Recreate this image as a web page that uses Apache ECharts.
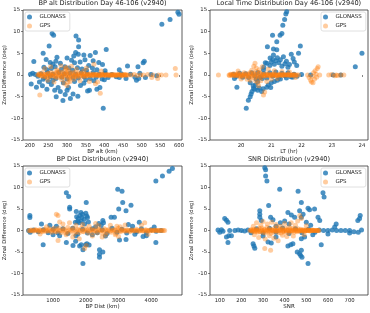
<!DOCTYPE html>
<html>
<head>
<meta charset="utf-8">
<script src="https://cdn.jsdelivr.net/npm/echarts@6/dist/echarts.min.js"></script>
<style>
html,body{margin:0;padding:0;background:#fff;}
#c{width:370px;height:313px;}
</style>
</head>
<body>
<div id="c"></div>
<script>
// ---------- data ----------
const titles = [
  'BP alt Distribution Day 46-106 (v2940)',
  'Local Time Distribution Day 46-106 (v2940)',
  'BP Dist Distribution (v2940)',
  'SNR Distribution (v2940)'
];
const xNames = ['BP alt (km)', 'LT (hr)', 'BP Dist (km)', 'SNR'];
const yName = 'Zonal Difference (deg)';
const yTicks = [-15, -10, -5, 0, 5, 10, 15];
const xTicksAlt = [200, 250, 300, 350, 400, 450, 500, 550, 600];
const xTicksLT = [20, 21, 22, 23, 24];
const xTicksDist = [1000, 2000, 3000, 4000];
const xTicksSNR = [100, 200, 300, 400, 500, 600, 700];
const seriesNames = ['GLONASS', 'GPS'];

const gloAlt = [
[597,14.5],[600,14.0],[576,12.8],[554,11.7],
[260,9.6],[264,9.2],[324,9.0],[331,8.1],[252,6.7],[331,6.5],[405,5.9],
[236,5.0],[323,5.2],[376,5.2],[330,4.8],[273,4.1],[318,4.4],[345,4.6],[362,4.5],
[211,3.1],[244,3.6],[255,2.9],[262,2.5],[270,3.2],[282,2.7],[300,3.9],[312,3.4],[320,2.8],[335,3.0],[348,3.5],[358,2.2],[370,3.3],[385,2.9],[395,2.4],
[504,2.8],[507,3.2],[462,2.1],[490,1.9],
[238,1.8],[246,1.2],[258,1.5],[268,1.9],[285,1.3],[294,1.9],[305,1.6],[315,1.1],[328,1.7],[340,1.4],[352,1.1],[368,1.6],[380,1.2],[402,1.0],[440,1.2],
[202,0.2],[208,0.4],[215,0.1],[222,-0.3],[230,0.3],[240,-0.6],[248,0.5],[255,-0.4],[262,0.2],[270,-0.8],[278,0.6],[286,-0.5],[293,0.3],[300,-0.9],[308,0.4],[316,-0.6],[323,0.2],[330,-0.7],[338,0.5],[346,-0.4],[354,0.3],[362,-0.8],[370,0.6],[378,-0.5],[386,0.2],[394,-0.9],[402,0.4],[410,-0.6],[420,0.1],[432,-0.4],[445,0.3],[458,-0.8],[470,0.2],[482,-0.5],[495,0.4],[510,-0.6],[525,0.1],[540,-0.2],
[204,-2.1],[218,-2.8],[246,-3.3],[267,-3.5],[276,-2.9],[300,-3.5],[295,-4.5],[304,-2.9],[316,-4.4],[282,-3.8],[360,-3.5],[355,-3.7],[380,-3.3],[388,-2.9],[271,-5.0],[329,-4.9],[309,-5.4],[289,-5.9],[397,-7.7],[486,-1.2],[492,-0.8],[440,-0.6],[250,-1.5],[262,-1.2],[290,-1.8],[320,-1.5],[345,-1.9],[372,-1.3],[400,-1.1],[236,-1.0],[226,-1.6],[234,-2.5],[258,-2.2],[336,-2.4],[350,-1.1]
];
const gpsAlt = [
[227,-4.6],[389,-4.2],
[222,0.0],[226,0.3],[230,-0.2],[234,0.5],[238,-0.4],[242,0.2],[246,-0.6],[250,0.4],[254,-0.1],[258,0.6],[262,-0.3],[266,0.1],[270,-0.5],[274,0.3],[278,-0.2],[282,0.7],[286,-0.4],[290,0.2],[294,-0.7],[298,0.5],[302,-0.2],[306,0.8],[310,-0.5],[314,0.3],[318,-0.1],[322,0.5],[326,-0.4],[330,0.2],[334,-0.3],[338,0.4],[342,-0.1],[346,0.2],[350,-0.3],[354,0.1],[358,-0.2],[362,0.3],[366,-0.1],[370,0.2],[374,-0.2],[378,0.1],[382,-0.1],[386,0.2],[390,-0.1],[394,0.1],[398,0],[402,-0.1],[406,0.1],[410,0],[414,-0.1],[418,0.1],[422,0],[426,0.1],[430,-0.1],[434,0],[438,0.1],[442,0],[446,-0.1],[450,0],[454,0.1],[458,0],
[224,0.1],[228,-0.1],[232,0.2],[236,-0.3],[240,0.1],[244,-0.2],[248,0.3],[252,-0.4],[256,0.2],[260,-0.1],[264,0.4],[268,-0.3],[272,0.6],[276,-0.6],[280,0.1],[284,-0.3],[288,0.5],[292,-0.2],[296,0.3],[300,0.1],[304,-0.5],[308,0.2],[312,-0.3],[316,0.6],[320,-0.4],[324,0.1],[328,-0.2],[332,0.5],[336,-0.1],[340,0.2],[344,-0.4],[348,0.3],[352,-0.1],[356,0.2],[360,0],[364,-0.1],[368,0.1],[372,0],[376,0.1],[380,0],[384,0],[388,-0.1],[392,0],[396,0.1],[400,0],[404,0],[408,0],[412,0],[416,0],[420,0],[424,0],[428,0],[432,0],[436,0],[440,0],[444,0],[448,0],[452,0],[456,0],[460,0],[464,0],
[240,1.5],[248,-1.2],[256,1.9],[265,-1.6],[272,1.2],[284,2.1],[292,-1.9],[296,1.5],[300,-2.4],[303,1.1],[308,-1.5],[312,2.0],[318,-1.0],[325,1.3],[335,-1.3],[345,1.0],[360,-1.5],[376,-2.0],[382,-1.6],[392,0.9],[352,1.6],[372,2.5],[286,-1.1],[276,0.9],[298,1.8],[302,-1.7],[306,-0.9],[294,1.0],
[472,0],[480,0.1],[488,-0.1],[497,0],[505,0],[516,0.1],[530,0],[545,0],[553,0],[565,0],[590,1.5],[592,0],[543,-0.8],[527,-0.6]
];

const gloLT = [
[20.17,-7.7],[20.24,-5.8],[20.3,-5.0],[20.33,-4.4],[20.36,-3.8],[20.41,-3.1],[20.47,-2.3],[20.55,-1.5],[20.6,-0.6],[20.74,1.2],[20.85,2.7],[20.96,3.9],[21.07,4.6],[21.18,5.8],[21.29,9.2],[21.35,9.6],[21.38,11.5],[21.44,12.8],[21.48,14.1],[21.51,14.6],
[20.87,6.5],[21.04,9.2],[21.07,6.0],[21.18,7.7],[21.96,6.7],[21.9,5.0],[21.66,4.8],[21.72,3.8],[21.76,3.0],[21.84,2.2],[24.0,5.0],[23.78,1.9],[19.86,-2.8],[19.78,-0.8],
[20.95,2.2],[21.0,3.0],[21.05,3.6],[21.1,2.5],[21.15,3.3],[21.2,4.0],[21.25,2.8],[21.3,3.5],[21.35,2.0],[21.4,4.2],[21.45,2.6],[21.5,3.2],[21.55,1.8],[20.75,1.8],[20.8,2.8],[21.6,2.4],
[20.45,-3.3],[20.55,-3.5],[20.6,-3.0],[20.68,-3.8],[20.73,-3.2],[20.85,-2.8],[20.9,-2.3],[21.0,-1.8],[21.1,-1.5],[21.2,-1.2],[20.98,-2.9],[20.4,-2.5],[20.3,-1.8],[20.5,-1.0],[20.7,-0.8],[21.3,-0.9],[21.5,-0.7],[21.7,-0.5],
[19.75,0.1],[19.85,-0.3],[19.95,0.4],[20.05,-0.5],[20.15,0.3],[20.25,-0.6],[20.35,0.5],[20.45,-0.2],[20.55,0.6],[20.65,-0.4],[20.75,0.3],[20.85,-0.7],[20.95,0.5],[21.05,-0.3],[21.15,0.7],[21.25,-0.5],[21.35,0.4],[21.45,-0.2],[21.55,0.5],[21.65,-0.4],[21.75,0.2],[21.85,-0.3],[22.0,0.1],[22.3,0],[23.05,0],[23.3,0.0]
];
const gpsLT = [
[19.25,0],[19.6,0],[19.65,0.2],[19.7,-0.1],[19.75,0.3],[19.8,-0.2],[19.85,0.1],[19.9,0.4],[19.95,-0.3],[20.0,0.2],[20.05,-0.1],[20.1,0.5],[20.15,-0.4],[20.2,0.3],[20.25,-0.2],[20.3,0.6],[20.35,-0.5],[20.4,0.2],[20.45,-0.7],[20.5,0.8],[20.55,-0.3],[20.6,0.4],[20.65,-0.6],[20.7,0.2],[20.75,-0.2],[20.8,0.3],[20.85,-0.1],[20.9,0.2],[20.95,-0.2],[21.0,0.1],[21.05,-0.1],[21.1,0.2],[21.15,0],[21.2,-0.1],[21.25,0.1],[21.3,0],[21.35,-0.1],[21.4,0.1],[21.45,0],[21.5,0],[21.55,0.1],[21.6,0],[21.65,-0.1],[21.7,0],[21.75,0.1],[21.8,0],[21.9,0],
[19.62,-0.1],[19.68,0.1],[19.72,0],[19.78,0.2],[19.82,-0.1],[19.88,0],[19.92,-0.2],[19.98,0.1],[20.02,-0.3],[20.08,0],[20.12,0.2],[20.18,-0.2],[20.22,0.1],[20.28,-0.4],[20.32,0.3],[20.38,-0.1],[20.42,0.4],[20.48,-0.3],[20.52,0.1],[20.58,-0.5],[20.62,0.5],[20.68,-0.2],[20.72,0.1],[20.78,-0.3],[20.82,0],[20.88,0.1],[20.92,-0.1],[20.98,0],[21.02,0.1],[21.08,0],[21.12,-0.1],[21.18,0],[21.22,0],[21.28,0],[21.32,0],[21.38,0],[21.42,0],[21.48,0],[21.52,0],[21.58,0],[21.62,0],[21.68,0],[21.72,0],[21.78,0],[21.85,0],
[20.46,2.7],[20.42,2.0],[20.5,1.6],[20.55,-1.8],[20.58,-2.5],[20.6,1.2],[20.65,-1.3],[20.7,1.9],[20.74,-4.6],[20.78,-3.9],[20.48,-1.4],[20.35,1.1],[20.3,-1.2],[20.85,-1.5],[20.9,1.3],[21.0,-1.0],[21.1,1.0],[21.2,-0.8],[21.35,0.8],[20.2,-1.0],[20.0,-0.9],[19.9,0.9],[21.6,0.7],[21.8,-0.6],
[22.2,0],[22.25,-0.6],[22.3,-1.2],[22.33,-1.6],[22.35,-0.3],[22.4,0.5],[22.43,-0.9],[22.45,1.0],[22.48,0.2],[22.5,-0.5],[22.52,1.5],[22.55,1.9],[22.38,-1.8],[22.6,0],
[22.9,0],[23.0,0.1],[23.1,-0.2],[23.15,0],[23.2,-0.1],[23.3,0],[23.4,0]
];

const gloDist = [
[4647,14.4],[4546,13.8],[4343,12.7],[4141,11.5],[2976,9.6],[3107,9.1],[1405,8.8],[1476,7.9],[2013,6.5],[3128,6.5],[1507,5.0],[1507,5.4],[3006,5.0],[3229,4.6],[3381,5.9],[1709,4.4],
[1720,3.2],[1770,2.8],[1820,3.5],[1860,2.2],[1900,3.8],[1950,2.6],[2000,4.0],[2050,3.0],[2080,2.0],[1800,1.8],[1880,3.0],[1960,1.5],[2030,3.4],[1750,2.1],[1680,1.9],[1850,4.2],
[290,3.5],[290,3.0],[645,1.5],[2520,2.3],[2540,1.8],[2773,3.1],[2874,3.1],[2469,1.2],[3634,1.9],[3430,1.0],[3300,1.4],[4090,0.8],[2400,1.6],[2300,0.9],[1100,1.0],[900,1.2],
[696,-3.3],[1405,-2.8],[1689,-2.5],[1608,-3.5],[1811,-3.6],[1912,-4.5],[1860,-3.3],[1993,-3.3],[2033,-3.1],[2100,-3.4],[2418,-4.5],[2418,-5.5],[2418,-6.2],[2520,-5.0],[1912,-7.7],[3229,-2.1],[3030,-2.2],[4141,-2.8],[3850,-1.2],[3750,-1.4],[1700,-1.2],[1000,-1.0],[1200,-1.2],[2200,-1.0],[2600,-1.3],[3500,-0.9],[300,-0.4],
[250,0],[400,0.1],[550,-0.3],[700,0.2],[850,-0.5],[1000,0.3],[1150,-0.6],[1300,0.4],[1450,-0.7],[1600,0.5],[1750,-0.8],[1900,0.3],[2050,-0.6],[2200,0.4],[2350,-0.5],[2500,0.2],[2650,-0.7],[2800,0.5],[2950,-0.4],[3100,0.3],[3250,-0.6],[3400,0.2],[3550,-0.3],[3700,0.4],[3850,-0.5],[4000,0.2],[4150,-0.2],[4300,0]
];
const gpsDist = [
[260,0],[330,0.1],[400,-0.1],[470,0.2],[540,-0.2],[610,0.1],[680,-0.3],[750,0.3],[820,-0.1],[890,0.4],[960,-0.4],[1030,0.5],[1100,-0.3],[1170,0.6],[1240,-0.5],[1310,0.4],[1380,-0.6],[1450,0.7],[1520,-0.4],[1590,0.5],[1660,-0.7],[1730,0.3],[1800,-0.5],[1870,0.6],[1940,-0.3],[2010,0.4],[2080,-0.6],[2150,0.3],[2220,-0.4],[2290,0.5],[2360,-0.5],[2430,0.2],[2500,-0.6],[2570,0.4],[2640,-0.5],[2710,0.3],[2780,-0.4],[2850,0.2],[2920,-0.7],[2990,0.5],[3060,-0.3],[3130,0.3],[3200,-0.2],[3270,0.2],[3340,-0.3],[3410,0.2],[3480,-0.1],[3550,0.3],[3620,-0.2],[3690,0.1],[3760,-0.2],[3830,0.2],[3900,-0.1],[3970,0.1],[4040,0],[4110,0.1],[4180,0],[4250,0],[4330,0],[4410,0],
[295,-0.1],[365,0],[435,0.1],[505,0],[575,0.1],[645,-0.1],[715,0],[785,-0.2],[855,0.1],[925,-0.1],[995,0.1],[1065,-0.2],[1135,0.2],[1205,0],[1275,-0.1],[1345,0.2],[1415,-0.2],[1485,0.1],[1555,0],[1625,0.2],[1695,-0.3],[1765,0.1],[1835,0],[1905,-0.2],[1975,0.1],[2045,0],[2115,-0.1],[2185,0.1],[2255,0],[2325,-0.1],[2395,0.1],[2465,0],[2535,-0.1],[2605,0.1],[2675,0],[2745,-0.1],[2815,0],[2885,0.1],[2955,0],[3025,-0.1],[3095,0],[3165,0],[3235,0],[3305,0],[3375,0],[3445,0],[3515,0],[3585,0],[3655,0],[3725,0],[3795,0],[3865,0],[3935,0],[4005,0],[4075,0],[4145,0],[4215,0],[4290,0],[4370,0],
[1100,3.8],[1150,3.5],[1200,2.0],[1151,-2.3],[1300,1.5],[1500,1.8],[1600,-1.5],[1700,1.2],[1800,-1.9],[1900,1.4],[2013,-3.5],[1963,-4.2],[2100,1.0],[2200,-1.3],[2400,1.1],[2500,-1.5],[2600,-1.1],[2750,1.2],[2900,-1.0],[2950,1.0],[3000,-1.4],[3050,0.9],[3200,1.3],[3700,1.2],[3800,1.8],[3900,-0.9],[800,0.9],[600,-0.8],[1400,-1.0],[2300,1.6]
];

const gloSNR = [
[308,14.6],[312,14.1],[312,12.7],[318,11.5],[377,9.6],[462,9.1],[577,8.8],[582,7.8],[477,6.5],[326,5.8],[508,5.2],[515,4.8],[538,5.0],[285,4.6],[285,3.8],[285,3.1],[292,2.3],[415,4.2],[431,3.6],[446,3.1],[469,4.6],[477,3.1],[485,3.8],[123,2.8],[131,2.4],[138,1.9],[554,3.1],[562,2.3],[638,1.5],[631,0.8],[746,2.8],[749,3.5],[738,2.3],[335,3.1],[346,2.5],[380,1.8],[400,2.2],[420,1.5],[500,1.9],[520,1.2],[360,1.0],
[138,-2.8],[131,-1.5],[142,-1.2],[154,-1.2],[254,-3.1],[258,-3.6],[262,-4.1],[323,-2.7],[338,-2.9],[415,-3.6],[428,-3.3],[438,-3.1],[458,-5.0],[469,-5.4],[477,-4.6],[474,-5.8],[480,-6.2],[508,-7.7],[569,-3.3],[477,-1.9],[492,-1.5],[300,-1.3],[360,-1.5],[530,-1.0],[600,-0.8],[700,-0.6],[720,-0.3],
[92,0.1],[100,-0.4],[108,0.2],[115,-0.2],[146,0],[170,0],[185,0.1],[200,0],[215,-0.1],[230,0.1],[245,-0.5],[270,0.4],[300,-0.6],[330,0.5],[360,-0.4],[390,0.6],[420,-0.7],[450,0.4],[480,-0.5],[510,0.3],[540,-0.4],[560,0.1],[580,0],[600,0],[620,0.1],[640,0],[660,0],[680,0],[700,0],[740,-0.4],[755,0.1]
];
const gpsSNR = [
[240,0],[246,0.2],[252,-0.1],[258,0.3],[264,-0.3],[270,0.1],[276,-0.4],[282,0.5],[288,-0.2],[294,0.6],[300,-0.5],[306,0.3],[312,-0.6],[318,0.7],[324,-0.3],[330,0.4],[336,-0.7],[342,0.2],[348,-0.4],[354,0.5],[360,-0.2],[366,0.6],[372,-0.5],[378,0.3],[384,-0.6],[390,0.4],[396,-0.3],[402,0.5],[408,-0.4],[414,0.2],[420,-0.5],[426,0.4],[432,-0.2],[438,0.5],[444,-0.4],[450,0.3],[456,-0.3],[462,0.4],[468,-0.2],[474,0.3],[480,-0.1],[486,0.2],[492,-0.2],[498,0.1],[504,0],[510,0.1],[516,-0.1],[522,0],[528,0.1],[534,0],[540,0],[546,0],[552,0],[558,0],
[243,0.1],[249,-0.2],[255,0],[261,-0.1],[267,0.2],[273,-0.1],[279,0.1],[285,-0.3],[291,0.2],[297,0],[303,-0.2],[309,0.1],[315,-0.1],[321,0.2],[327,0],[333,-0.1],[339,0.1],[345,0],[351,-0.1],[357,0.1],[363,0],[369,-0.1],[375,0],[381,0.1],[387,0],[393,-0.1],[399,0],[405,0.1],[411,0],[417,0],[423,-0.1],[429,0],[435,0],[441,0.1],[447,0],[453,0],[459,0],[465,0],[471,0],[477,0],[483,0],[489,0],[495,0],[501,0],[507,0],[513,0],[519,0],[525,0],[531,0],[537,0],[549,0],[555,0],
[308,-4.2],[335,-4.6],[270,1.8],[280,-1.6],[290,1.2],[300,2.1],[310,-2.0],[320,1.5],[330,-1.2],[340,1.9],[350,-1.8],[360,1.4],[370,-2.4],[380,1.0],[390,-1.1],[400,1.6],[410,-1.4],[420,0.9],[430,1.8],[440,-1.3],[450,1.2],[460,2.2],[470,3.5],[477,2.8],[490,-1.0],[500,1.1],[260,-1.0],[255,1.0]
];

// ---------- layout / style ----------
const FONT = 'DejaVu Sans';
const TXT = '#222';
const BLUE = '#1f77b4';
const ORANGE = 'rgba(255,127,14,0.5)';
const grids = [
  {left: 23, top: 10, width: 159, height: 130},
  {left: 210, top: 10, width: 158, height: 130},
  {left: 23, top: 166, width: 159, height: 129},
  {left: 210, top: 166, width: 158, height: 129}
];
const xRanges = [[182, 608], [18.97, 24.2], [80, 4940], [55, 785]];
const xTickSets = [xTicksAlt, xTicksLT, xTicksDist, xTicksSNR];
const gloSets = [gloAlt, gloLT, gloDist, gloSNR];
const gpsSets = [gpsAlt, gpsLT, gpsDist, gpsSNR];
const plain = v => String(v);

const option = {
  animation: false,
  backgroundColor: '#fff',
  textStyle: {fontFamily: FONT},
  title: titles.map((t, i) => ({
    text: t,
    left: grids[i].left + grids[i].width / 2,
    top: grids[i].top - 10,
    textAlign: 'center',
    padding: 0,
    textStyle: {fontFamily: FONT, fontSize: 6.6, fontWeight: 'normal', color: TXT}
  })),
  legend: grids.map((g, i) => ({
    data: seriesNames,
    orient: 'vertical',
    left: i % 2 === 0 ? g.left + 2 : g.left + g.width - 47,
    top: g.top + 2,
    icon: 'circle',
    itemWidth: 10,
    itemHeight: 5,
    itemGap: 3,
    padding: [2, 4, 2, 2],
    backgroundColor: '#fff',
    borderColor: '#d8d8d8',
    borderWidth: 0.8,
    borderRadius: 2,
    selectedMode: false,
    textStyle: {fontFamily: FONT, fontSize: 5.5, color: TXT}
  })),
  grid: grids.map(g => Object.assign({show: true, borderColor: '#333', borderWidth: 0.8, backgroundColor: 'transparent', outerBoundsMode: 'none', containLabel: false}, g)),
  xAxis: grids.map((g, i) => ({
    type: 'value',
    gridIndex: i,
    min: xRanges[i][0],
    max: xRanges[i][1],
    name: xNames[i],
    nameLocation: 'middle',
    nameGap: 8,
    nameTextStyle: {fontFamily: FONT, fontSize: 5.5, color: TXT},
    axisLine: {show: false},
    splitLine: {show: false},
    axisTick: {show: true, length: 2, lineStyle: {color: '#333', width: 0.6}, customValues: xTickSets[i]},
    axisLabel: {fontFamily: FONT, fontSize: 5.3, color: TXT, margin: 3, customValues: xTickSets[i], formatter: plain}
  })),
  yAxis: grids.map((g, i) => ({
    type: 'value',
    gridIndex: i,
    min: -15,
    max: 15,
    interval: 5,
    name: yName,
    nameLocation: 'middle',
    nameGap: 14,
    nameTextStyle: {fontFamily: FONT, fontSize: 5.3, color: TXT},
    axisLine: {show: false},
    splitLine: {show: false},
    axisTick: {show: true, length: 2, lineStyle: {color: '#333', width: 0.6}, customValues: yTicks},
    axisLabel: {fontFamily: FONT, fontSize: 5.3, color: TXT, margin: 3, customValues: yTicks, formatter: plain}
  })),
  series: []
};
for (let i = 0; i < 4; i++) {
  option.series.push({
    name: 'GLONASS', type: 'scatter', xAxisIndex: i, yAxisIndex: i,
    symbolSize: 5, itemStyle: {color: BLUE}, data: gloSets[i], z: 2
  });
}
for (let i = 0; i < 4; i++) {
  option.series.push({
    name: 'GPS', type: 'scatter', xAxisIndex: i, yAxisIndex: i,
    symbolSize: 5, itemStyle: {color: ORANGE}, data: gpsSets[i], z: 3
  });
}
const chart = echarts.init(document.getElementById('c'), null, {renderer: 'canvas'});
chart.setOption(option);
</script>
</body>
</html>
